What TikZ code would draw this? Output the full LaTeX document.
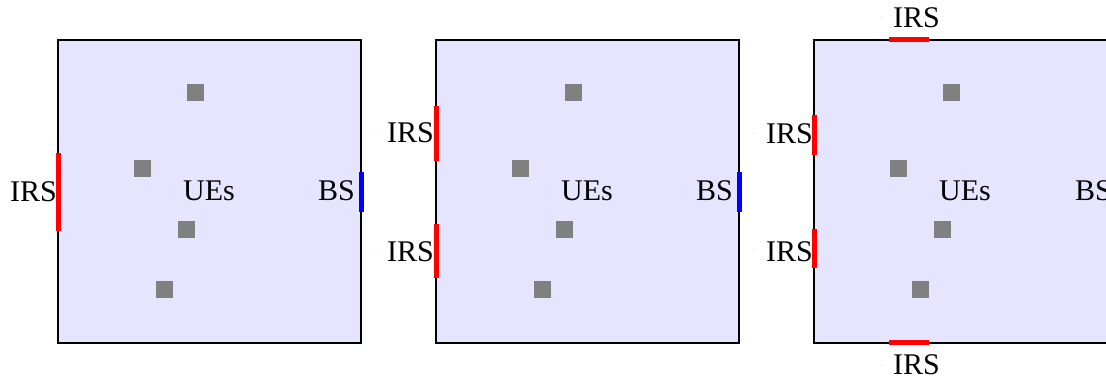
\documentclass[tikz,border=0pt]{standalone}
\usepackage{fontspec}
\setmainfont{Liberation Serif}
\begin{document}
\begin{tikzpicture}[x=1pt,y=-1pt,
  area/.style={draw=black, line width=1.2pt, fill=blue!10},
  ue/.style={rectangle, fill=gray, minimum size=17pt, inner sep=0pt, draw=none},
  irs/.style={draw=red, line width=5pt},
  bsline/.style={draw=blue, line width=5pt},
  lbl/.style={font=\fontsize{30}{36}\selectfont, inner sep=0pt},
  tinydot/.style={circle, fill=gray!50, inner sep=0pt, minimum size=1.2pt}]
\useasboundingbox (0,0) rectangle (1106,379);
\clip (0,0) rectangle (1106,379);
% panel 1
\begin{scope}[xshift=58pt]
  \draw[area] (0,40) rectangle (303,343);
  \node[ue] (u1a) at (137,93) {};
  \node[ue] (u1b) at (84,169) {};
  \node[ue] (u1c) at (128,230) {};
  \node[ue] (u1d) at (106,290) {};
  \node[tinydot] (d1u) at (114,192) {};
  \node[lbl, anchor=base west] (t1u) at (125,201) {UEs};
  \node[tinydot] (d1b) at (250,192) {};
  \node[lbl, anchor=base west] (t1b) at (260,201) {BS};
  \draw[bsline] (303,172) -- (303,212);
  \draw[irs] (0,153) -- (0,231);
  \node[lbl, anchor=base east] (t1i) at (-1,202) {IRS};
\end{scope}
% panel 2
\begin{scope}[xshift=436pt]
  \draw[area] (0,40) rectangle (303,343);
  \node[ue] (u2a) at (137,93) {};
  \node[ue] (u2b) at (84,169) {};
  \node[ue] (u2c) at (128,230) {};
  \node[ue] (u2d) at (106,290) {};
  \node[tinydot] (d2u) at (114,192) {};
  \node[lbl, anchor=base west] (t2u) at (125,201) {UEs};
  \node[tinydot] (d2b) at (250,192) {};
  \node[lbl, anchor=base west] (t2b) at (260,201) {BS};
  \draw[bsline] (303,172) -- (303,212);
  \draw[irs] (0,106) -- (0,161);
  \draw[irs] (0,224) -- (0,278);
  \node[tinydot] (d2i1) at (-60,134) {};
  \node[tinydot] (d2i2) at (-60,251) {};
  \node[lbl, anchor=base east] (t2i1) at (-2,143) {IRS};
  \node[lbl, anchor=base east] (t2i2) at (-2,262) {IRS};
\end{scope}
% panel 3
\begin{scope}[xshift=814pt]
  \draw[area] (0,40) rectangle (303,343);
  \node[ue] (u3a) at (137,93) {};
  \node[ue] (u3b) at (84,169) {};
  \node[ue] (u3c) at (128,230) {};
  \node[ue] (u3d) at (106,290) {};
  \node[tinydot] (d3u) at (114,192) {};
  \node[lbl, anchor=base west] (t3u) at (125,201) {UEs};
  \node[tinydot] (d3b) at (250,192) {};
  \node[lbl, anchor=base west] (t3b) at (261,201) {BS};
  \draw[bsline] (303,172) -- (303,212);
  \draw[irs] (0,115) -- (0,155);
  \draw[irs] (0,229) -- (0,268);
  \draw[irs] (75,40) -- (115,40);
  \draw[irs] (75,343) -- (115,343);
  \node[tinydot] (d3i1) at (-60,133) {};
  \node[tinydot] (d3i2) at (-60,250) {};
  \node[lbl, anchor=base east] (t3i1) at (-1,144) {IRS};
  \node[lbl, anchor=base east] (t3i2) at (-1,262) {IRS};
  \node[tinydot] (d3it) at (68,17) {};
  \node[tinydot] (d3ib) at (68,365) {};
  \node[lbl, anchor=base west] (t3it) at (79,28) {IRS};
  \node[lbl, anchor=base west] (t3ib) at (79,374) {IRS};
\end{scope}
\end{tikzpicture}
\end{document}
